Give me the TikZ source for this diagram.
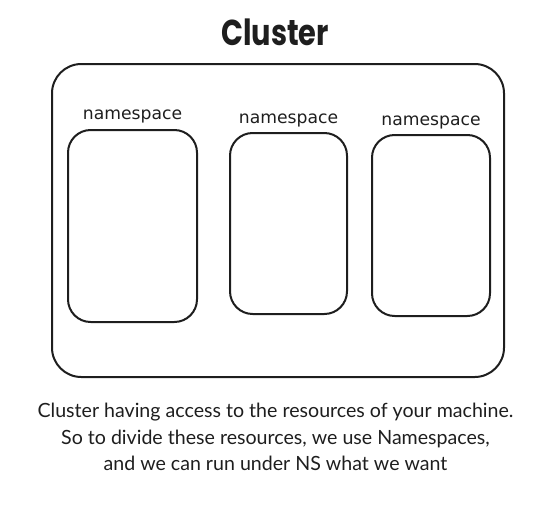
\documentclass[tikz,border=0pt]{standalone}
\usepackage{fontspec}
\usetikzlibrary{positioning}
\setmainfont{Lato}
\newfontfamily\titlefont{Poppins}[UprightFont=* Bold]
\newfontfamily\labelfont{DejaVu Sans}
\definecolor{ink}{HTML}{1E1E1E}
\definecolor{textgrey}{HTML}{1E1E1E}
\newcommand{\notefont}{\fontsize{14.7}{19.9}\selectfont}
\newcommand{\nslabel}{\labelfont\fontsize{12.9}{14}\selectfont}
\tikzset{
  sketchbox/.style={draw=ink,line width=1.5pt,rounded corners=17pt,inner sep=0},
  nsname/.style={inner sep=0,text=ink,font=\nslabel},
}

\begin{document}
\begin{tikzpicture}[x=0.75pt,y=-0.75pt]
\useasboundingbox (0,0) rectangle (552,511);
\node[inner sep=0,text=ink] (title) at (275,32) {\scalebox{0.8}[1]{\titlefont\fontsize{27}{30}\selectfont Cluster}};
\node[sketchbox,rounded corners=22pt,minimum width=339pt,minimum height=234.75pt] (cluster) at (278,220.5) {};
\node[sketchbox,minimum width=96.75pt,minimum height=144pt] (nsa) at (132.5,226) {};
\node[sketchbox,minimum width=87.75pt,minimum height=135.75pt] (nsb) at (288.5,223.5) {};
\node[sketchbox,minimum width=88.5pt,minimum height=135.75pt] (nsc) at (431,225.5) {};
\node[nsname,above=4pt of nsa] (labela) {namespace};
\node[nsname,above=3.5pt of nsb] (labelb) {namespace};
\node[nsname,above=3.5pt of nsc] (labelc) {namespace};
\node[inner sep=0,text=textgrey,align=center,font=\notefont] (note) at (275.5,437) {Cluster having access to the resources of your machine.\\So to divide these resources, we use Namespaces,\\and we can run under NS what we want};
\end{tikzpicture}
\end{document}
